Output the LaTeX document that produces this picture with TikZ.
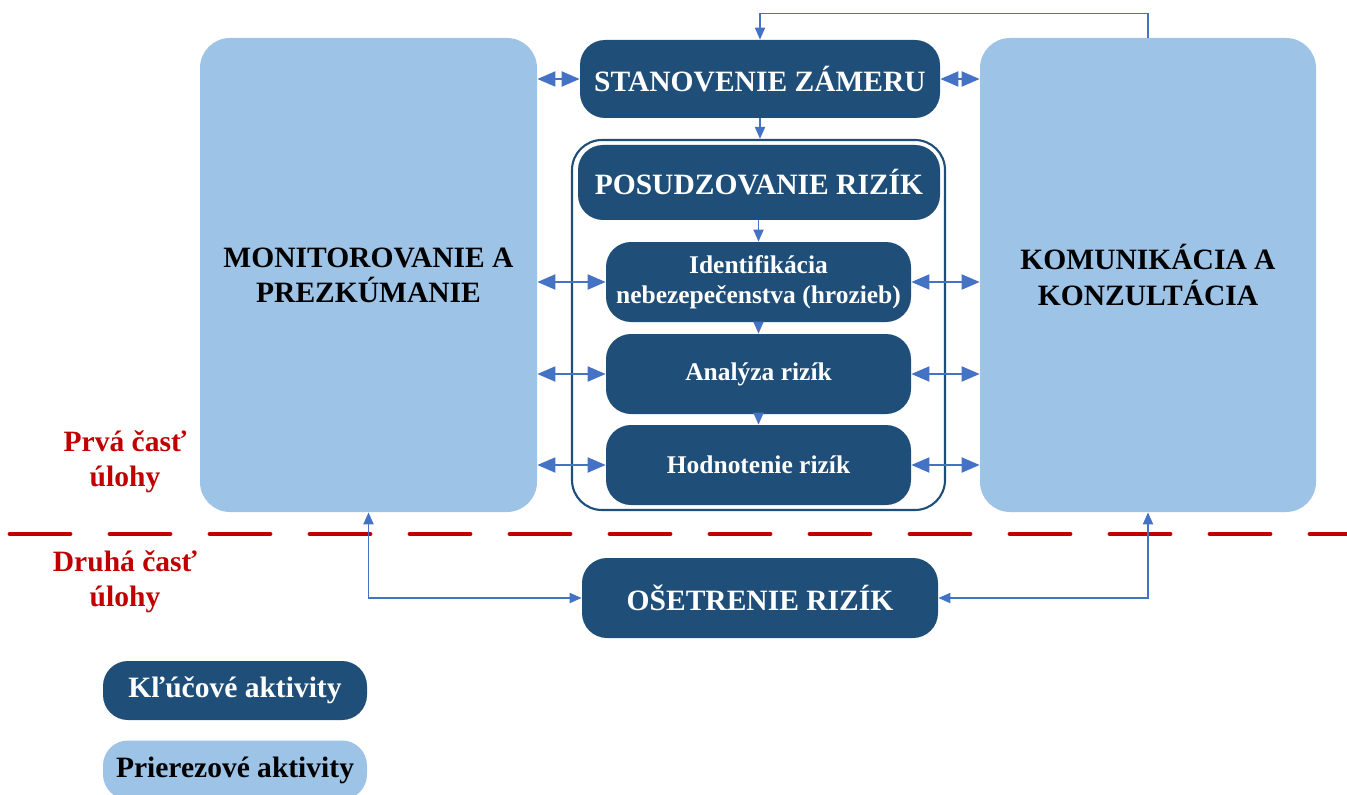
\documentclass[tikz,border=0pt]{standalone}
\usepackage{fontspec}
\setmainfont{Liberation Serif}
\usetikzlibrary{arrows.meta}
\definecolor{keyblue}{RGB}{31,78,121}
\definecolor{crossblue}{RGB}{157,195,230}
\definecolor{arrblue}{RGB}{68,114,196}
\definecolor{partred}{RGB}{192,0,0}
\newcommand{\bigtxt}{\fontsize{16.8}{20}\selectfont\bfseries}
\newcommand{\smalltxt}{\fontsize{14.5}{17}\selectfont\bfseries}
\begin{document}
\begin{tikzpicture}[>={Triangle[length=2.4mm,width=2mm]},
  keybox/.style={fill=keyblue, rounded corners=5mm, text=white, align=center, inner sep=0pt},
  crossbox/.style={fill=crossblue, rounded corners=6mm, align=center, inner sep=0pt, font=\bigtxt},
  link/.style={draw=arrblue, line width=1.1pt},
  bigtip/.style={>={Triangle[length=3.6mm,width=3mm]}},
  part/.style={text=partred, font=\bigtxt, align=center}]
\useasboundingbox (0,0) rectangle (26.94,-15.88);

\node[crossbox, minimum width=6.74cm, minimum height=9.48cm] (mon) at (7.37,-5.5) {MONITOROVANIE A\\PREZKÚMANIE};
\node[crossbox, minimum width=6.72cm, minimum height=9.48cm] (kom) at (22.96,-5.5) {KOMUNIKÁCIA A\\KONZULTÁCIA};

\node[keybox, font=\bigtxt, minimum width=7.2cm, minimum height=1.56cm] (zamer) at (15.2,-1.58) {STANOVENIE ZÁMERU};
\node[draw=keyblue, line width=1.2pt, fill=white, rounded corners=6mm, minimum width=7.46cm, minimum height=7.4cm] (posbox) at (15.17,-6.5) {};
\node[keybox, font=\bigtxt, minimum width=7.24cm, minimum height=1.5cm] (posud) at (15.18,-3.65) {POSUDZOVANIE RIZÍK};
\node[keybox, font=\smalltxt, minimum width=6.1cm, minimum height=1.6cm] (ident) at (15.17,-5.64) {Identifikácia\\nebezepečenstva (hrozieb)};
\node[keybox, font=\smalltxt, minimum width=6.1cm, minimum height=1.6cm] (analyza) at (15.17,-7.48) {Analýza rizík};
\node[keybox, font=\smalltxt, minimum width=6.1cm, minimum height=1.6cm] (hodn) at (15.17,-9.3) {Hodnotenie rizík};
\node[keybox, font=\bigtxt, minimum width=7.12cm, minimum height=1.6cm] (osetr) at (15.2,-11.96) {OŠETRENIE RIZÍK};

\node[keybox, font=\bigtxt, minimum width=5.28cm, minimum height=1.18cm] (legkey) at (4.7,-13.81) {Kľúčové aktivity};
\node[crossbox, rounded corners=5mm, minimum width=5.28cm, minimum height=1.18cm] (legcross) at (4.7,-15.4) {Prierezové aktivity};

\node[part] (prva) at (2.5,-9.24) {Prvá časť\\úlohy};
\node[part] (druha) at (2.5,-11.64) {Druhá časť\\úlohy};

\coordinate (dl) at (0.2,-10.68);
\coordinate (dr) at (26.94,-10.68);
\draw[partred, line width=2.8pt, dash pattern=on 1.2cm off 0.8cm, line cap=round] (dl) -- (dr);

\draw[link, ->, line width=0.9pt] (kom.north) -- ++(0,0.48) -| (zamer.north);
\draw[link, <->, bigtip] (zamer.west -| mon.east) -- (zamer.west);
\draw[link, <->, bigtip] (zamer.east) -- (zamer.east -| kom.west);
\draw[link, ->] (zamer.south) -- (zamer.south |- posbox.north);
\draw[link, ->] (ident.north |- posud.south) -- (ident.north);
\draw[link, ->] (ident.south) -- (analyza.north);
\draw[link, ->] (analyza.south) -- (hodn.north);
\foreach \n in {ident,analyza,hodn}
{
    \draw[link, <->, bigtip] (\n.west -| mon.east) -- (\n.west);
    \draw[link, <->, bigtip] (\n.east) -- (\n.east -| kom.west);
}
\draw[link, <->] (mon.south) |- (osetr.west);
\draw[link, <->] (osetr.east) -| (kom.south);
\end{tikzpicture}
\end{document}
